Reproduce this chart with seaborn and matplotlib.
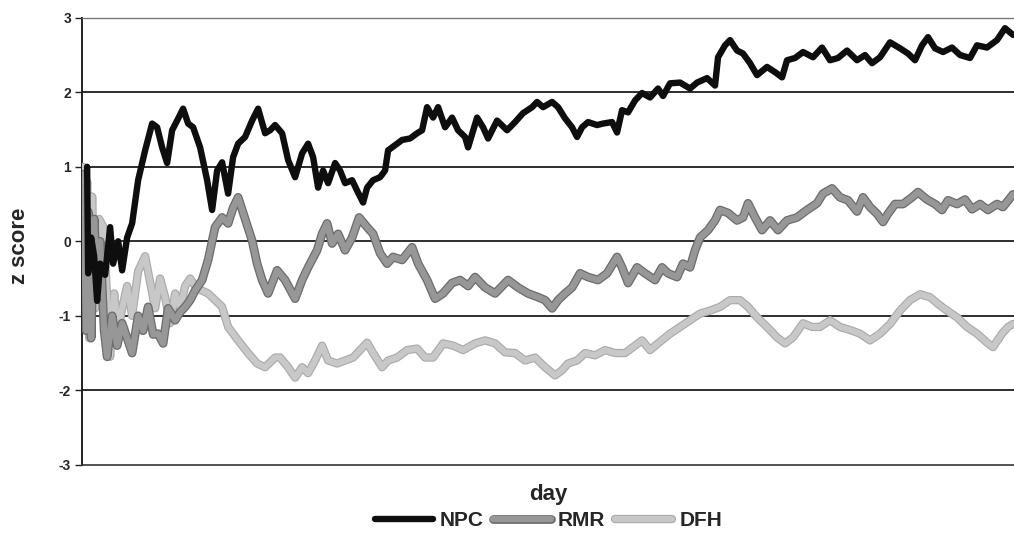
import matplotlib
matplotlib.use("Agg")
import matplotlib.pyplot as plt
import matplotlib.patheffects as pe
import pandas as pd
import seaborn as sns

# NPC series (day, z score)
npc_day = [5, 6, 9, 12, 15, 18, 23, 28, 31, 36,
           40, 45, 50, 56, 63, 70, 75, 80, 85, 90,
           95, 101, 106, 111, 118, 125, 130, 135, 140, 146,
           151, 156, 163, 170, 176, 183, 188, 193, 200, 206,
           213, 220, 226, 231, 236, 241, 246, 253, 258, 263,
           270, 275, 281, 285, 291, 298, 303, 306, 313, 320,
           328, 335, 340, 345, 351, 356, 363, 370, 376, 383,
           386, 395, 401, 406, 415, 425, 433, 441, 450, 455,
           461, 470, 476, 483, 490, 495, 500, 506, 515, 521,
           530, 535, 540, 546, 553, 560, 568, 576, 581, 588,
           598, 608, 615, 625, 633, 636, 643, 648, 655, 661,
           668, 675, 685, 693, 700, 705, 713, 721, 731, 740,
           748, 756, 765, 775, 783, 790, 798, 808, 818, 826,
           833, 840, 846, 853, 861, 870, 878, 888, 895, 905,
           915, 923, 931]
npc_z = [1.0, -0.43, 0.05, -0.2, -0.8, -0.3, -0.45, 0.19, -0.3, 0.0,
         -0.39, 0.05, 0.24, 0.82, 1.22, 1.58, 1.53, 1.26, 1.05, 1.49,
         1.62, 1.78, 1.58, 1.53, 1.26, 0.82, 0.42, 0.95, 1.06, 0.64,
         1.13, 1.31, 1.4, 1.62, 1.78, 1.45, 1.49, 1.56, 1.45, 1.09,
         0.86, 1.18, 1.31, 1.13, 0.72, 0.95, 0.78, 1.05, 0.95, 0.78,
         0.82, 0.68, 0.52, 0.72, 0.82, 0.86, 0.95, 1.22, 1.29, 1.36,
         1.38, 1.45, 1.49, 1.8, 1.66, 1.8, 1.53, 1.66, 1.49, 1.4,
         1.26, 1.66, 1.53, 1.38, 1.62, 1.49, 1.6, 1.72, 1.8, 1.87,
         1.8, 1.87, 1.8, 1.65, 1.53, 1.4, 1.53, 1.6, 1.56, 1.58,
         1.6, 1.46, 1.76, 1.73, 1.89, 1.99, 1.93, 2.05, 1.95, 2.12,
         2.13, 2.05, 2.13, 2.19, 2.09, 2.47, 2.63, 2.7, 2.56, 2.52,
         2.39, 2.23, 2.34, 2.27, 2.2, 2.43, 2.46, 2.54, 2.47, 2.6,
         2.43, 2.46, 2.56, 2.43, 2.5, 2.39, 2.47, 2.67, 2.59, 2.52,
         2.43, 2.63, 2.74, 2.59, 2.54, 2.6, 2.5, 2.46, 2.63, 2.6,
         2.7, 2.86, 2.77]

# RMR series
rmr_day = [1, 4, 6, 9, 12, 15, 18, 22, 25, 30,
           35, 40, 45, 50, 56, 61, 66, 71, 76, 81,
           86, 93, 98, 103, 108, 113, 120, 126, 133, 140,
           146, 151, 156, 163, 170, 175, 180, 186, 195, 203,
           213, 220, 226, 235, 240, 245, 250, 256, 263, 270,
           277, 285, 291, 298, 305, 311, 320, 330, 336, 345,
           353, 361, 370, 378, 386, 393, 403, 413, 426, 436,
           446, 456, 463, 470, 476, 483, 490, 498, 506, 516,
           525, 535, 540, 546, 555, 563, 573, 580, 586, 595,
           601, 608, 613, 618, 626, 633, 638, 646, 655, 661,
           666, 673, 680, 688, 696, 705, 715, 725, 735, 741,
           750, 758, 766, 775, 781, 788, 795, 801, 806, 813,
           821, 830, 836, 845, 853, 860, 866, 875, 883, 890,
           898, 906, 915, 921, 931]
rmr_z = [0.9, -1.2, 0.4, -1.3, 0.3, -0.6, 0.0, -1.2, -1.55, -1.0,
         -1.4, -1.1, -1.3, -1.5, -1.0, -1.2, -0.88, -1.25, -1.24, -1.37,
         -0.9, -1.06, -0.95, -0.88, -0.79, -0.66, -0.52, -0.25, 0.19, 0.32,
         0.24, 0.45, 0.59, 0.3, 0.01, -0.3, -0.52, -0.7, -0.39, -0.52,
         -0.77, -0.52, -0.35, -0.12, 0.1, 0.24, -0.03, 0.1, -0.12, 0.05,
         0.32, 0.19, 0.1, -0.16, -0.3, -0.21, -0.25, -0.08, -0.3, -0.52,
         -0.77, -0.7, -0.56, -0.52, -0.6, -0.48, -0.62, -0.7, -0.52, -0.62,
         -0.7, -0.75, -0.79, -0.9, -0.79, -0.7, -0.62, -0.43, -0.48, -0.52,
         -0.43, -0.21, -0.35, -0.56, -0.35, -0.43, -0.52, -0.35, -0.43, -0.48,
         -0.3, -0.35, -0.12, 0.05, 0.15, 0.28, 0.42, 0.38, 0.28, 0.32,
         0.51, 0.32, 0.15, 0.28, 0.15, 0.28, 0.32, 0.42, 0.51, 0.64,
         0.71, 0.59, 0.55, 0.4, 0.59, 0.46, 0.37, 0.26, 0.37, 0.5,
         0.5, 0.59, 0.66, 0.56, 0.5, 0.42, 0.55, 0.5, 0.56, 0.43,
         0.5, 0.42, 0.5, 0.46, 0.63]

# DFH series
dfh_day = [1, 3, 5, 7, 10, 13, 17, 21, 24, 28,
           32, 36, 40, 45, 50, 56, 63, 68, 73, 78,
           83, 88, 93, 98, 103, 108, 113, 118, 126, 133,
           140, 146, 156, 166, 175, 183, 193, 198, 206, 213,
           220, 226, 233, 240, 246, 255, 263, 271, 278, 285,
           291, 300, 306, 315, 325, 335, 343, 351, 361, 371,
           381, 393, 403, 413, 423, 433, 443, 453, 463, 473,
           480, 486, 495, 503, 513, 523, 533, 543, 551, 560,
           568, 576, 588, 598, 608, 618, 628, 638, 648, 658,
           666, 675, 685, 695, 703, 711, 721, 730, 738, 748,
           758, 768, 778, 788, 798, 808, 818, 828, 838, 848,
           856, 865, 875, 885, 895, 905, 911, 920, 926, 931]
dfh_z = [1.0, -0.3, 0.8, -1.3, 0.6, -0.9, 0.3, 0.2, -0.5, -1.55,
         -0.7, -1.2, -0.9, -0.6, -1.0, -0.4, -0.2, -0.55, -0.9, -0.5,
         -0.75, -1.1, -0.7, -0.9, -0.6, -0.5, -0.6, -0.65, -0.7, -0.79,
         -0.88, -1.15, -1.33, -1.5, -1.64, -1.69, -1.56, -1.56, -1.69, -1.83,
         -1.69, -1.77, -1.6, -1.4, -1.6, -1.64, -1.6, -1.56, -1.46, -1.36,
         -1.5, -1.69, -1.6, -1.56, -1.46, -1.44, -1.56, -1.56, -1.37, -1.4,
         -1.46, -1.37, -1.33, -1.37, -1.49, -1.5, -1.6, -1.56, -1.69, -1.8,
         -1.73, -1.64, -1.6, -1.5, -1.53, -1.46, -1.5, -1.5, -1.42, -1.33,
         -1.46, -1.37, -1.24, -1.15, -1.06, -0.97, -0.93, -0.88, -0.79, -0.79,
         -0.88, -1.02, -1.15, -1.29, -1.37, -1.29, -1.1, -1.15, -1.15, -1.06,
         -1.15, -1.19, -1.24, -1.33, -1.24, -1.11, -0.93, -0.79, -0.71, -0.75,
         -0.84, -0.93, -1.02, -1.15, -1.24, -1.36, -1.42, -1.24, -1.15, -1.11]

y_ticks = [-3, -2, -1, 0, 1, 2, 3]

sns.set_style("white")
plt.rcParams["font.family"] = ["Liberation Sans", "DejaVu Sans"]

fig = plt.figure(figsize=(10.14, 5.38), dpi=100)
ax = fig.add_axes([0.081, 0.136, 0.919, 0.831])

# horizontal grid lines at each integer
for v in y_ticks[1:-1]:
    ax.axhline(v, color="#1e1e1e", lw=1.3, zorder=1)

dfh = pd.DataFrame({"day": dfh_day, "z": dfh_z})
rmr = pd.DataFrame({"day": rmr_day, "z": rmr_z})
npc = pd.DataFrame({"day": npc_day, "z": npc_z})

sns.lineplot(data=dfh, x="day", y="z", ax=ax, color="#c8c8c8", lw=4.3,
             sort=False, zorder=3, label="DFH",
             path_effects=[pe.Stroke(linewidth=6, foreground="#ababab"), pe.Normal()])
sns.lineplot(data=rmr, x="day", y="z", ax=ax, color="#979797", lw=4.5,
             sort=False, zorder=4, label="RMR",
             path_effects=[pe.Stroke(linewidth=6.3, foreground="#6c6c6c"), pe.Normal()])
sns.lineplot(data=npc, x="day", y="z", ax=ax, color="#0e0e0e", lw=4.6,
             sort=False, zorder=5, label="NPC")

ax.set_xlim(0, 932)
ax.set_ylim(-3, 3)
ax.set_yticks(y_ticks)
ax.set_yticklabels([str(t) for t in y_ticks], fontsize=10, fontweight="bold")
ax.set_xticks([])
ax.tick_params(axis="y", direction="out", length=5, width=1, color="#222222",
               left=True, pad=3)

ax.spines["right"].set_visible(False)
ax.spines["left"].set_color("#222222")
ax.spines["left"].set_linewidth(1.4)
ax.spines["bottom"].set_color("#333333")
ax.spines["bottom"].set_linewidth(1.2)
ax.spines["top"].set_color("#777777")
ax.spines["top"].set_linewidth(1.0)
ax.spines["top"].set_linestyle((0, (2, 1)))

ax.set_xlabel("day", fontsize=16, fontweight="bold", labelpad=14)
ax.set_ylabel("z score", fontsize=16, fontweight="bold")
ax.yaxis.set_label_coords(-0.056, 0.49)

handles, labels = ax.get_legend_handles_labels()
order = [labels.index(n) for n in ["NPC", "RMR", "DFH"]]
ax.get_legend().remove()
fig.legend([handles[i] for i in order], [labels[i] for i in order],
           loc="lower center", bbox_to_anchor=(0.541, -0.02), ncol=3,
           frameon=False, prop={"weight": "bold", "size": 15},
           handlelength=2.75, handletextpad=0.35, columnspacing=0.45)

fig.savefig("out.png", dpi=100, facecolor="white")
